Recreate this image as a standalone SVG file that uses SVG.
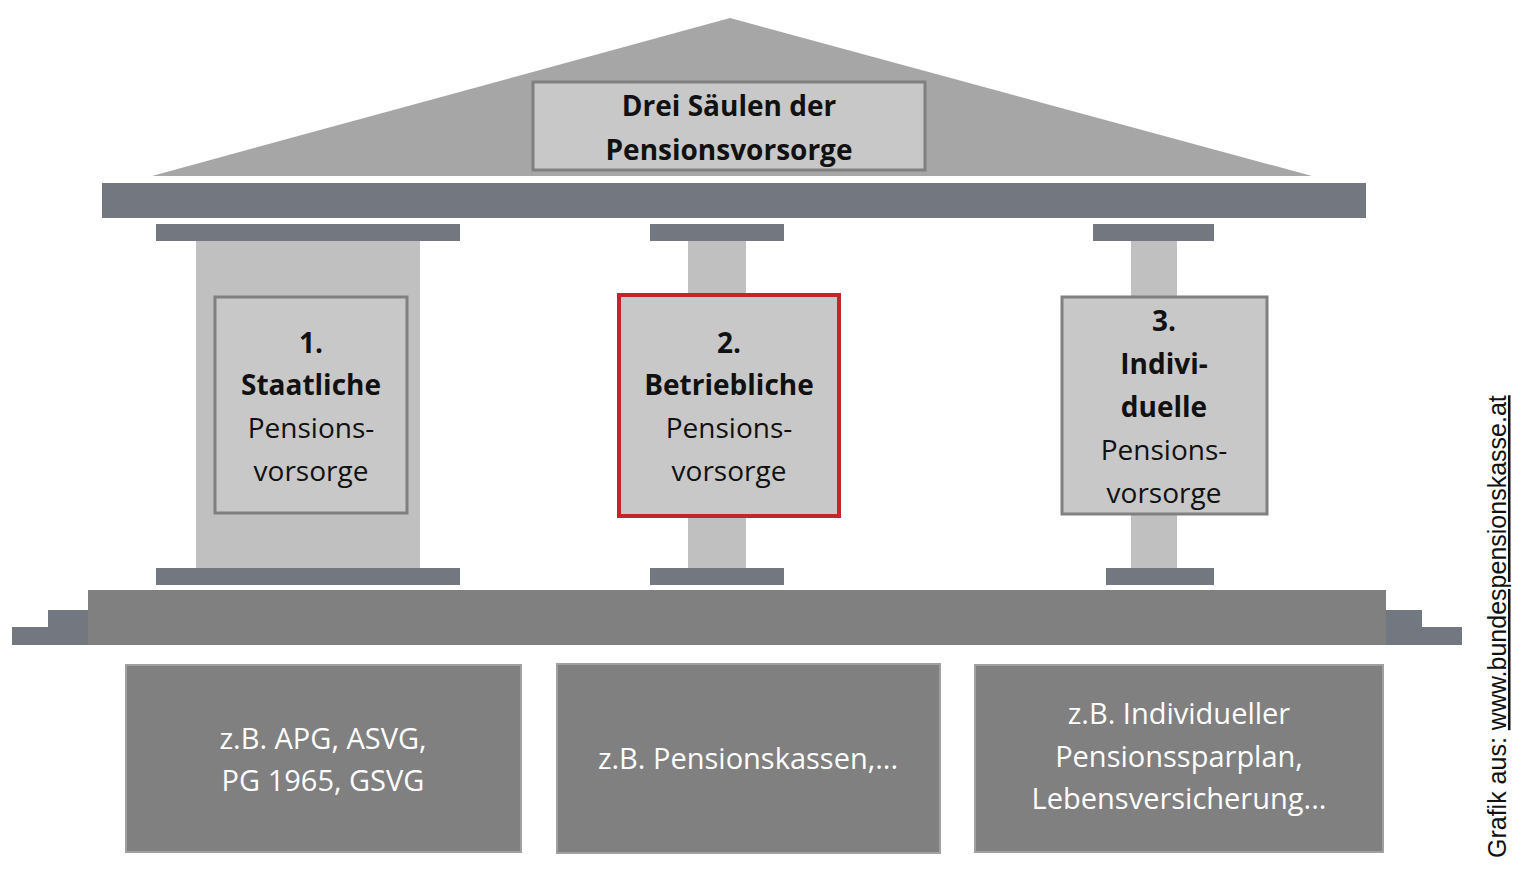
<svg xmlns="http://www.w3.org/2000/svg" width="1526" height="870" viewBox="0 0 1526 870">
<style>
.t{font-family:"Open Sans","Noto Sans",sans-serif;font-size:28px;text-anchor:middle;fill:#111}
.b{font-weight:bold}
.w{fill:#fff;font-size:29px}
.dk{fill:#737880}
.col{fill:#c0c0c0}
.nb{fill:#c8c8c8;stroke:#808080;stroke-width:3}
.red{stroke:#c0272d;stroke-width:4}
.bx{fill:#808080;stroke:#a0a0a0;stroke-width:2}
</style>
<rect width="1526" height="870" fill="#fff"/>
<g id="temple">
<polygon points="730,18 152,176 1312,176" fill="#a6a6a6"/>
<rect class="dk" x="102" y="183" width="1264" height="35"/>
<rect class="dk" x="156" y="224" width="304" height="17"/>
<rect class="dk" x="650" y="224" width="134" height="17"/>
<rect class="dk" x="1093" y="224" width="121" height="17"/>
<rect class="col" x="196" y="241" width="224" height="327"/>
<rect class="col" x="688" y="241" width="58" height="327"/>
<rect class="col" x="1131" y="241" width="46" height="327"/>
<rect class="dk" x="156" y="568" width="304" height="17"/>
<rect class="dk" x="650" y="568" width="134" height="17"/>
<rect class="dk" x="1106" y="568" width="108" height="17"/>
<rect class="dk" x="12" y="627" width="1450" height="18"/>
<rect class="dk" x="48" y="610" width="1374" height="35"/>
<rect x="88" y="590" width="1298" height="55" fill="#808080"/>
</g>
<g id="title">
<rect x="533" y="82" width="392" height="88" class="nb"/>
<text class="t b" x="729" y="116">Drei Säulen der</text>
<text class="t b" x="729" y="160">Pensionsvorsorge</text>
</g>
<g id="n1">
<rect class="nb" x="215" y="297" width="192" height="216"/>
<text class="t b" x="311" y="353">1.</text>
<text class="t b" x="311" y="395">Staatliche</text>
<text class="t" x="311" y="438">Pensions-</text>
<text class="t" x="311" y="481">vorsorge</text>
</g>
<g id="n2">
<rect class="nb red" x="619" y="295" width="220" height="221"/>
<text class="t b" x="729" y="353">2.</text>
<text class="t b" x="729" y="395">Betriebliche</text>
<text class="t" x="729" y="438">Pensions-</text>
<text class="t" x="729" y="481">vorsorge</text>
</g>
<g id="n3">
<rect class="nb" x="1062" y="297" width="205" height="217"/>
<text class="t b" x="1164" y="331">3.</text>
<text class="t b" x="1164" y="374">Indivi-</text>
<text class="t b" x="1164" y="417">duelle</text>
<text class="t" x="1164" y="460">Pensions-</text>
<text class="t" x="1164" y="503">vorsorge</text>
</g>
<g id="b1">
<rect class="bx" x="126" y="665" width="395" height="187"/>
<text class="t w" x="323" y="749">z.B. APG, ASVG,</text>
<text class="t w" x="323" y="791">PG 1965, GSVG</text>
</g>
<g id="b2">
<rect class="bx red" x="557" y="664" width="383" height="189"/>
<text class="t w" x="748" y="769">z.B. Pensionskassen,...</text>
</g>
<g id="b3">
<rect class="bx" x="975" y="665" width="408" height="187"/>
<text class="t w" x="1179" y="724">z.B. Individueller</text>
<text class="t w" x="1179" y="767">Pensionssparplan,</text>
<text class="t w" x="1179" y="809">Lebensversicherung...</text>
</g>
<g id="connectors"></g>
<text transform="translate(1506,858) rotate(-90)" font-family="Liberation Sans,Arial,sans-serif" font-size="25" fill="#111">Grafik aus: <tspan text-decoration="underline">www.bundespensionskasse.at</tspan></text>
</svg>
